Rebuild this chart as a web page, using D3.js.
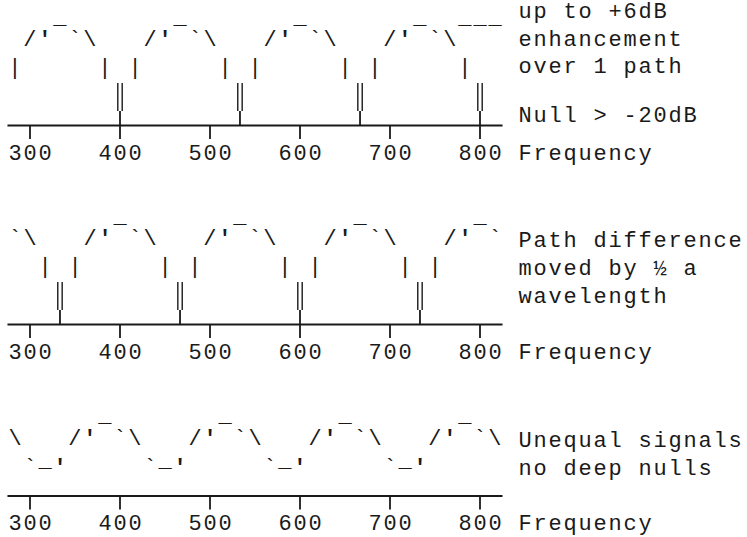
<!DOCTYPE html>
<html><head><meta charset="utf-8">
<script src="https://cdn.jsdelivr.net/npm/d3@7"></script>
<style>html,body{margin:0;padding:0;background:#fff;} svg{display:block;}</style>
</head><body>
<svg id="chart" width="747" height="537"></svg>
<script>
// ---- data ----
const ticks = [300, 400, 500, 600, 700, 800];
const p1Peaks = [333.3, 466.7, 600, 733.3];
const p1Nulls = [400, 533.3, 666.7, 800];
const p1Level = [783.3, 800, 816.7];
const p2Peaks = [266.7, 400, 533.3, 666.7, 800];
const p2Nulls = [333.3, 466.7, 600, 733.3];
const p3Peaks = [250, 383.3, 516.7, 650, 783.3];
const p3Troughs = [316.7, 450, 583.3, 716.7];
const p1Notes = ["up to +6dB", "enhancement", "over 1 path", "Null > -20dB"];
const p2Notes = ["Path difference", "moved by \u00BD a", "wavelength"];
const p3Notes = ["Unequal signals", "no deep nulls"];
const axisTitle = "Frequency";

// ---- layout ----
const FONT = '"Liberation Mono", "Courier New", monospace';
const FS = 22;
const CELL = 15;
const LS = CELL - 0.6 * FS;
const col = 100 / 6;               // one character cell in Hz
const fLo = 283.3, fHi = 816.7;     // visible cell range
const x = d3.scaleLinear().domain([300, 800]).range([30, 480]);

const panels = [
  {peaks: p1Peaks, nulls: p1Nulls, level: p1Level, troughs: [], notes: p1Notes,
   rows: [24, 46, 74], axisY: 125.5, nullTop: 83, nullMid: 111, labelY: 160,
   noteY: [18, 45.7, 73.3, 122]},
  {peaks: p2Peaks, nulls: p2Nulls, level: [], troughs: [], notes: p2Notes,
   rows: [223, 245, 273], axisY: 324.5, nullTop: 282, nullMid: 310, labelY: 359,
   noteY: [246.5, 274.7, 302.7]},
  {peaks: p3Peaks, nulls: [], level: [], troughs: p3Troughs, notes: p3Notes,
   rows: [421.5, 445, 474], axisY: 496, labelY: 530,
   noteY: [446.7, 474.5]}
];

const svg = d3.select("#chart");
const ink = "#1a1a1a";

panels.forEach(p => {
  const g = svg.append("g");
  // glyphs of the response curve
  const glyphs = [];
  p.peaks.forEach(f => {
    glyphs.push({f: f, r: 0, ch: "_"});
    glyphs.push({f: f - 2 * col, r: 1, ch: "/"});
    glyphs.push({f: f - col, r: 1, ch: "'", w: "bold"});
    glyphs.push({f: f + col, r: 1, ch: "`"});
    glyphs.push({f: f + 2 * col, r: 1, ch: "\\"});
    if (p.nulls.length) {
      glyphs.push({f: f - 3 * col, r: 2, ch: "|"});
      glyphs.push({f: f + 3 * col, r: 2, ch: "|"});
    }
  });
  p.level.forEach(f => glyphs.push({f: f, r: 0, ch: "_"}));
  p.troughs.forEach(f => {
    glyphs.push({f: f - col, r: 2, ch: "`"});
    glyphs.push({f: f, r: 2, ch: "_", dy: -7});
    glyphs.push({f: f + col, r: 2, ch: "'", w: "bold"});
  });
  const vis = glyphs.filter(d => d.f > fLo - 1 && d.f < fHi + 1);
  g.selectAll("text.glyph").data(vis).join("text")
    .attr("class", "glyph")
    .attr("x", d => x(d.f))
    .attr("y", d => p.rows[d.r] + (d.dy || 0))
    .attr("text-anchor", "middle")
    .attr("font-family", FONT).attr("font-size", FS)
    .attr("font-weight", d => d.w || "normal")
    .attr("fill", ink)
    .text(d => d.ch);

  // frequency axis
  g.append("line")
    .attr("x1", x(fLo - col / 2)).attr("x2", x(fHi + col / 2))
    .attr("y1", p.axisY).attr("y2", p.axisY)
    .attr("stroke", ink).attr("stroke-width", 1.8);
  g.selectAll("line.tick").data(ticks).join("line")
    .attr("class", "tick")
    .attr("x1", d => x(d)).attr("x2", d => x(d))
    .attr("y1", p.axisY).attr("y2", p.axisY + 13.5)
    .attr("stroke", ink).attr("stroke-width", 1.8);
  g.selectAll("text.tl").data(ticks).join("text")
    .attr("class", "tl")
    .attr("x", d => x(d) - 1.5 * CELL + LS / 2)
    .attr("y", p.labelY)
    .attr("font-family", FONT).attr("font-size", FS)
    .attr("letter-spacing", LS)
    .attr("fill", ink)
    .text(d => String(d));

  // nulls
  p.nulls.forEach(f => {
    [-2.2, 2.2].forEach(dx => {
      g.append("line")
        .attr("x1", x(f) + dx).attr("x2", x(f) + dx)
        .attr("y1", p.nullTop).attr("y2", p.nullMid)
        .attr("stroke", ink).attr("stroke-width", 1.4);
    });
    g.append("line")
      .attr("x1", x(f)).attr("x2", x(f))
      .attr("y1", p.nullMid).attr("y2", p.axisY)
      .attr("stroke", ink).attr("stroke-width", 1.8);
  });

  // notes on the right
  const noteX = x(fHi) + CELL * 1.5 + LS / 2;
  g.selectAll("text.note").data(p.notes).join("text")
    .attr("class", "note")
    .attr("x", noteX)
    .attr("y", (d, i) => p.noteY[i])
    .attr("font-family", FONT).attr("font-size", FS)
    .attr("letter-spacing", LS)
    .attr("fill", ink)
    .text(d => d);
  g.append("text")
    .attr("x", noteX).attr("y", p.labelY)
    .attr("font-family", FONT).attr("font-size", FS)
    .attr("letter-spacing", LS)
    .attr("fill", ink)
    .text(axisTitle);
});
</script>
</body></html>
